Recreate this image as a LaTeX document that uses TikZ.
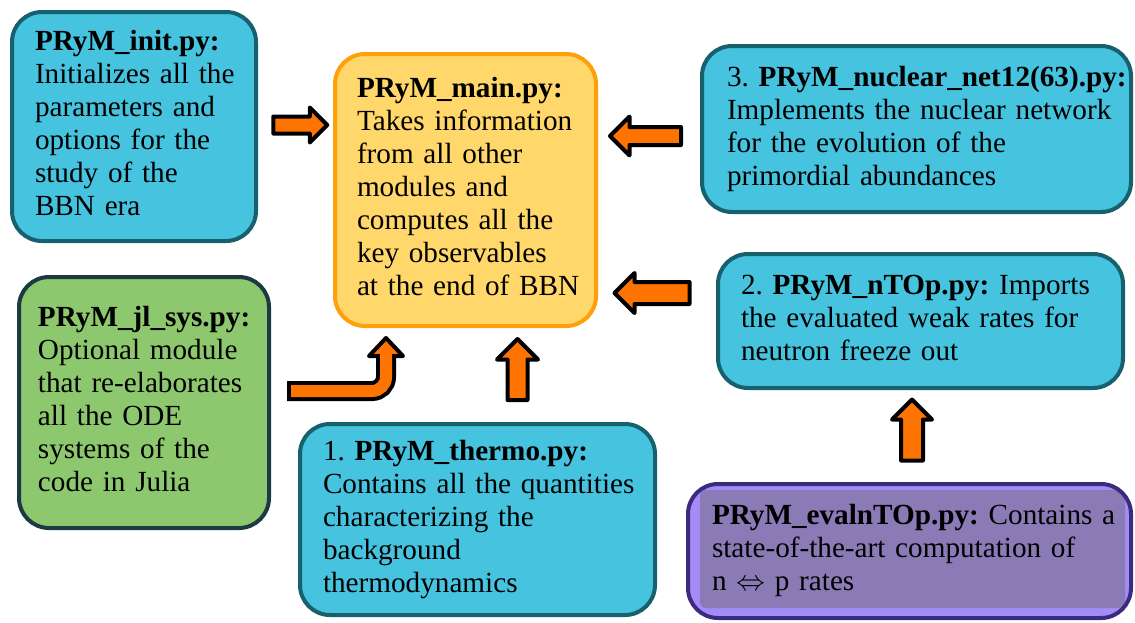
\documentclass[tikz,border=0pt]{standalone}
\usepackage{fontspec}
\setmainfont{Liberation Serif}
\usetikzlibrary{shapes.arrows}

\definecolor{bluefill}{HTML}{45C3DF}
\definecolor{blueline}{HTML}{17606E}
\definecolor{mainfill}{HTML}{FFD76A}
\definecolor{mainline}{HTML}{FFA00A}
\definecolor{greenfill}{HTML}{8DC86E}
\definecolor{greenline}{HTML}{1C3A44}
\definecolor{purplefill}{HTML}{8A7BB7}
\definecolor{purplelight}{HTML}{A48BF5}
\definecolor{purpleline}{HTML}{3B2B7E}
\definecolor{arroworange}{HTML}{FF7300}

\newcommand{\modtext}[1]{\begin{tabular}{@{}l@{}}#1\end{tabular}}
\frenchspacing

\begin{document}
\begin{tikzpicture}[
        x=0.5pt, y=-0.5pt,
        module/.style={rectangle, rounded corners=15pt, line width=2pt, inner ysep=0pt, align=left, font=\fontsize{14.6}{16.5}\selectfont},
        bluebox/.style={module, draw=blueline, fill=bluefill},
        mainbox/.style={module, draw=mainline, fill=mainfill},
        greenbox/.style={module, draw=greenline, fill=greenfill},
        purplebox/.style={module, draw=purpleline, fill=purplelight,
            path picture={\fill[purplefill, rounded corners=3pt] ([shift={(6pt,5pt)}]path picture bounding box.south west) rectangle ([shift={(-3pt,-3pt)}]path picture bounding box.north east);}},
        blockarrow/.style={single arrow, draw=black, fill=arroworange, line width=2pt, line join=round, inner xsep=0pt}
        ]
        \useasboundingbox (0,0) rectangle (1135,622);

        \node[bluebox, text width=99pt, inner xsep=11.5pt, minimum height=114.5pt] (init) at (134,126.5)
            {\modtext{\textbf{PRyM\_init.py:}\\Initializes all the\\parameters and\\options for the\\study of the\\BBN era}};
        \node[mainbox, text width=108.5pt, inner xsep=11pt, minimum height=136pt] (main) at (465.5,190)
            {\modtext{\textbf{PRyM\_main.py:}\\Takes information\\from all other\\modules and\\computes all the\\key observables\\at the end of BBN}};
        \node[bluebox, text width=189.5pt, inner xsep=12.5pt, minimum height=83pt] (nuclear) at (916.5,129)
            {\modtext{3.\ \textbf{PRyM\_nuclear\_net12(63).py:}\\Implements the nuclear network\\for the evolution of the\\primordial abundances}};
        \node[bluebox, text width=179.5pt, inner xsep=11.5pt, minimum height=67pt] (ntop) at (920.5,321)
            {\modtext{2.\ \textbf{PRyM\_nTOp.py:} Imports\\the evaluated weak rates for\\neutron freeze out}};
        \node[greenbox, text width=106pt, inner xsep=9.5pt, minimum height=125.5pt] (jlsys) at (144,402.5)
            {\modtext{\textbf{PRyM\_jl\_sys.py:}\\Optional module\\that re-elaborates\\all the ODE\\systems of the\\code in Julia}};
        \node[bluebox, text width=154.5pt, inner xsep=11.5pt, minimum height=95.5pt] (thermo) at (477.5,519.5)
            {\modtext{1.\ \textbf{PRyM\_thermo.py:}\\Contains all the quantities\\characterizing the\\background\\thermodynamics}};
        \node[purplebox, text width=197.5pt, inner xsep=12pt, minimum height=67pt] (evalntop) at (909.5,551)
            {\modtext{\textbf{PRyM\_evalnTOp.py:} Contains a\\state-of-the-art computation of\\n $\Leftrightarrow$ p rates}};

        % block arrows into the main module
        \node[blockarrow, minimum height=27pt, inner ysep=3.25pt, single arrow head extend=4.5pt] (initarrow) at (296,125) {};
        \node[blockarrow, minimum height=35.5pt, inner ysep=3.5pt, single arrow head extend=5.25pt, rotate=180] (nucleararrow) at (650,136) {};
        \node[blockarrow, minimum height=37.5pt, inner ysep=4.5pt, single arrow head extend=4.5pt, rotate=180] (ntoparrow) at (657.5,293) {};
        \node[blockarrow, minimum height=30.5pt, inner ysep=4pt, single arrow head extend=5.25pt, rotate=90] (thermoarrow) at (517.5,374.5) {};
        \node[blockarrow, minimum height=30.5pt, inner ysep=4.5pt, single arrow head extend=4.5pt, rotate=90] (evalarrow) at (912,435.5) {};

        % bent arrow from the julia module
        \coordinate (jltail) at (287,391);
        \coordinate (jlbend) at (386,391);
        \coordinate (jlhead) at (386,356);
        \draw[line width=10pt, rounded corners=7pt] (jltail) -- (jlbend) -- (jlhead);
        \filldraw[fill=arroworange, draw=black, line width=2pt, line join=round] (369,356) -- (386,338) -- (403,356) -- cycle;
        \draw[line width=6pt, rounded corners=7pt, arroworange] ([xshift=2pt]jltail) -- (jlbend) -- ([yshift=2pt]jlhead);
    \end{tikzpicture}
\end{document}
